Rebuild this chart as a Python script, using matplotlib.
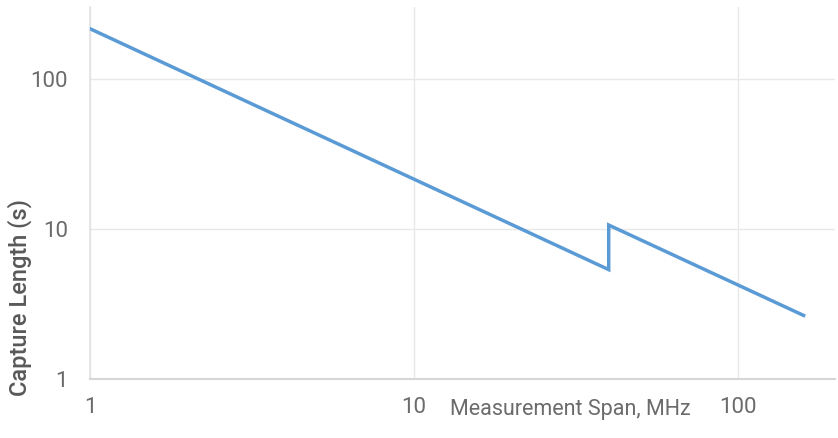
import matplotlib
matplotlib.use("Agg")
import matplotlib.pyplot as plt
from matplotlib.ticker import FixedLocator, NullLocator

span_mhz = [1, 40, 40, 160]
capture_s = [215, 5.35, 10.6, 2.65]

x_ticks = [1, 10, 100]
x_tick_labels = ["1", "10", "100"]
y_ticks = [1, 10, 100]
y_tick_labels = ["1", "10", "100"]

plt.rcParams["font.family"] = ["Roboto", "DejaVu Sans"]

fig = plt.figure(figsize=(8.38, 4.38), dpi=100)
ax = fig.add_axes([90 / 838, 1 - 379 / 438, 745 / 838, 372 / 438])

ax.plot(span_mhz, capture_s, color="#5b9bd5", linewidth=2.5, solid_joinstyle="miter", zorder=3)

ax.set_xscale("log")
ax.set_yscale("log")
ax.set_xlim(1, 200)
ax.set_ylim(1, 300)

ax.xaxis.set_major_locator(FixedLocator(x_ticks))
ax.xaxis.set_minor_locator(NullLocator())
ax.set_xticklabels(x_tick_labels)
ax.yaxis.set_major_locator(FixedLocator(y_ticks))
ax.yaxis.set_minor_locator(NullLocator())
ax.set_yticklabels(y_tick_labels)

ax.tick_params(axis="both", length=0, labelsize=16, labelcolor="#6b6b6b")
ax.tick_params(axis="x", pad=13)
ax.tick_params(axis="y", pad=16)

ax.grid(True, which="major", color="#e8e8e8", linewidth=1.0)
for side in ["top", "right"]:
    ax.spines[side].set_visible(False)
ax.spines["left"].set_color("#e3e3e3")
ax.spines["bottom"].set_color("#d6d6d6")
ax.spines["left"].set_linewidth(1.2)
ax.spines["bottom"].set_linewidth(1.5)

fig.text(20 / 838, 1 - 298 / 438, "Capture Length (s)", rotation=90,
         ha="center", va="center", fontsize=17, color="#595959", fontweight="medium")
fig.text(570 / 838, 1 - 409 / 438, "Measurement Span, MHz",
         ha="center", va="center", fontsize=15.5, color="#6b6b6b")

fig.savefig("out.png", dpi=100, facecolor="white")
